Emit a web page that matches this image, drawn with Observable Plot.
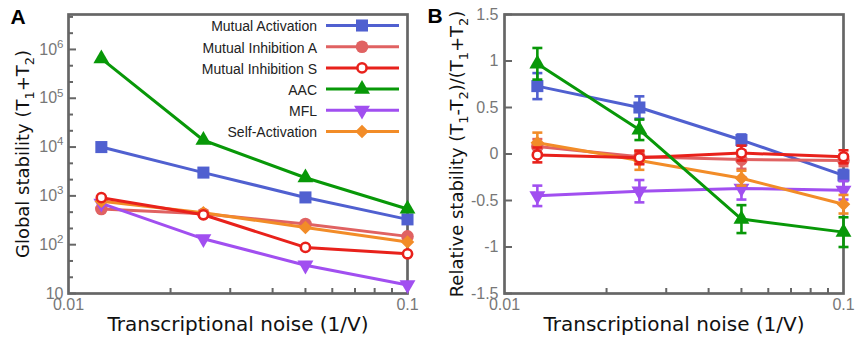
<!DOCTYPE html>
<html><head><meta charset="utf-8">
<script src="https://cdn.jsdelivr.net/npm/d3@7"></script>
<script src="https://cdn.jsdelivr.net/npm/@observablehq/plot@0.6"></script>
<style>
body{margin:0;background:#fff;}
#wrap{position:relative;width:855px;height:343px;overflow:hidden;}
#wrap > svg{position:absolute;top:0;}
</style></head><body><div id="wrap"></div>
<script>
// ---------- data ----------
const noise = [0.0125, 0.025, 0.05, 0.1];
const seriesNames = ["Mutual Activation","Mutual Inhibition A","Mutual Inhibition S","AAC","MFL","Self-Activation"];

const globalMA  = [10000, 3000, 930, 330];
const globalMIA = [540, 430, 265, 148];
const globalMIS = [920, 410, 88, 65];
const globalAAC = [650000, 13800, 2350, 540];
const globalMFL = [700, 132, 38, 15];
const globalSA  = [780, 450, 225, 113];

const relMA  = [0.73, 0.50, 0.15, -0.23];
const relMIA = [0.08, -0.03, -0.06, -0.07];
const relMIS = [-0.01, -0.04, 0.01, -0.03];
const relAAC = [0.97, 0.26, -0.70, -0.84];
const relMFL = [-0.45, -0.40, -0.37, -0.39];
const relSA  = [0.12, -0.07, -0.26, -0.54];

const errMA  = [0.14, 0.12, 0.06, 0.06];
const errMIA = [0.08, 0.07, 0.10, 0.06];
const errMIS = [0.08, 0.07, 0.08, 0.07];
const errAAC = [0.17, 0.11, 0.15, 0.16];
const errMFL = [0.11, 0.12, 0.12, 0.10];
const errSA  = [0.11, 0.10, 0.08, 0.10];

const xTickLabels = [0.01, 0.1];
const xMinorTicks = [0.02, 0.03, 0.04, 0.05, 0.06, 0.07, 0.08, 0.09];
const yTicksA = [10, 100, 1000, 10000, 100000, 1000000];
const yMinorA = [21.5, 46.4, 215, 464, 2154, 4642, 21544, 46416, 215443, 464159, 2154435, 4641589];
const yTicksB = [-1.5, -1, -0.5, 0, 0.5, 1, 1.5];

// ---------- styles ----------
const seriesColors = ["#5060d0", "#e06262", "#e8211b", "#089808", "#a14ff0", "#f28c28"];
const triDown = {draw(ctx, size){ const y = -Math.sqrt(size/(3*Math.sqrt(3))); ctx.moveTo(0, -2*y); ctx.lineTo(-Math.sqrt(3)*y, y); ctx.lineTo(Math.sqrt(3)*y, y); ctx.closePath(); }};
const diamondSq = {draw(ctx, size){ const h = Math.sqrt(size/2); ctx.moveTo(0,-h); ctx.lineTo(h,0); ctx.lineTo(0,h); ctx.lineTo(-h,0); ctx.closePath(); }};
const capSym = {draw(ctx, size){ const w = Math.sqrt(size/Math.PI); ctx.moveTo(-w,0); ctx.lineTo(w,0); }};
const markerStyles = [
  {symbol: "square", r: 6.8},
  {symbol: "circle", r: 6.3},
  {symbol: "circle", r: 4.6, open: true},
  {symbol: "triangle", r: 5.9},
  {symbol: triDown, r: 5.9},
  {symbol: diamondSq, r: 5.4}
];
const d3Sym = {square: d3.symbolSquare, circle: d3.symbolCircle, triangle: d3.symbolTriangle};
const drawOrder = [0, 1, 4, 5, 2, 3];

const globalVals = [globalMA, globalMIA, globalMIS, globalAAC, globalMFL, globalSA];
const relVals = [relMA, relMIA, relMIS, relAAC, relMFL, relSA];
const errVals = [errMA, errMIA, errMIS, errAAC, errMFL, errSA];
const rows = seriesNames.flatMap((name, i) => noise.map((x, j) => ({
  s: i, name, x, g: globalVals[i][j], rel: relVals[i][j], err: errVals[i][j]
})));

const frameColor = "#666";
const tickColor = "#777";
const baseFont = "'Liberation Sans', Arial, sans-serif";
const labelFont = "'DejaVu Sans', sans-serif";
const H = 343, MT = 14, MB = 50;
const innerH = H - MT - MB;

function seriesMarks(i, yKey, withErr) {
  const d = rows.filter(r => r.s === i);
  const c = seriesColors[i];
  const ms = markerStyles[i];
  const m = [Plot.line(d, {x: "x", y: yKey, stroke: c, strokeWidth: 3})];
  if (withErr) {
    m.push(Plot.ruleX(d, {x: "x", y1: r => r.rel - r.err, y2: r => r.rel + r.err, stroke: c, strokeWidth: 2.6}));
    m.push(Plot.dot(d, {x: "x", y: r => r.rel + r.err, symbol: capSym, r: 5, stroke: c, strokeWidth: 2.6, fill: "none"}));
    m.push(Plot.dot(d, {x: "x", y: r => r.rel - r.err, symbol: capSym, r: 5, stroke: c, strokeWidth: 2.6, fill: "none"}));
  }
  m.push(Plot.dot(d, {x: "x", y: yKey, symbol: ms.symbol, r: ms.r,
    fill: ms.open ? "white" : c, stroke: ms.open ? c : "none", strokeWidth: ms.open ? 2.6 : 0}));
  return m;
}

function fmtLog(d) { const e = Math.round(Math.log10(d)); return e === 1 ? "10" : "10^" + e; }

// ---------- Panel A ----------
const WA = 430, MLA = 68, MRA = 23, innerWA = WA - MLA - MRA;
const plotA = Plot.plot({
  width: WA, height: H, marginLeft: MLA, marginRight: MRA, marginTop: MT, marginBottom: MB,
  style: {fontFamily: baseFont, fontSize: "16px", background: "transparent", overflow: "visible"},
  x: {type: "log", domain: [0.01, 0.1]},
  y: {type: "log", domain: [10, 5.2e6]},
  marks: [
    Plot.frame({stroke: frameColor, strokeWidth: 2.7}),
    Plot.ruleX(xMinorTicks, {x: d => d, insetTop: innerH - 5, stroke: frameColor, strokeWidth: 2}),
    Plot.ruleY(yMinorA, {y: d => d, insetRight: innerWA - 5, stroke: frameColor, strokeWidth: 2}),
    Plot.ruleY(yTicksA, {y: d => d, insetRight: innerWA - 8, stroke: frameColor, strokeWidth: 2}),
    Plot.axisX({ticks: xTickLabels, tickSize: 0, tickPadding: 5, tickFormat: d => String(d), fill: tickColor, label: null}),
    Plot.axisY({ticks: yTicksA, tickSize: 0, tickPadding: 5, tickFormat: fmtLog, fill: tickColor, label: null}),
    ...drawOrder.flatMap(i => seriesMarks(i, "g", false)),
    Plot.text(["Transcriptional noise (1/V)"], {frameAnchor: "bottom", dy: 37, textAnchor: "middle", fontSize: 20, fontFamily: labelFont, fill: "#111"}),
    Plot.text(["Global stability (T_1+T_2)"], {frameAnchor: "left", dx: -45, rotate: -90, textAnchor: "middle", lineAnchor: "middle", fontSize: 18, fontFamily: labelFont, fill: "#111"}),
    Plot.text(["A"], {frameAnchor: "top-left", dx: -58, dy: 3, textAnchor: "start", lineAnchor: "middle", fontSize: 21, fontWeight: "bold", fill: "#000"})
  ]
});

// ---------- Panel B ----------
const WB = 425, MLB = 74, MRB = 12, innerWB = WB - MLB - MRB;
const plotB = Plot.plot({
  width: WB, height: H, marginLeft: MLB, marginRight: MRB, marginTop: MT, marginBottom: MB,
  style: {fontFamily: baseFont, fontSize: "16px", background: "transparent", overflow: "visible"},
  x: {type: "log", domain: [0.01, 0.1]},
  y: {domain: [-1.5, 1.5]},
  marks: [
    Plot.frame({stroke: frameColor, strokeWidth: 2.7}),
    Plot.ruleX(xMinorTicks, {x: d => d, insetTop: innerH - 5, stroke: frameColor, strokeWidth: 2}),
    Plot.ruleY(yTicksB, {y: d => d, insetRight: innerWB - 8, stroke: frameColor, strokeWidth: 2}),
    Plot.axisX({ticks: xTickLabels, tickSize: 0, tickPadding: 5, tickFormat: d => String(d), fill: tickColor, label: null}),
    Plot.axisY({ticks: yTicksB, tickSize: 0, tickPadding: 6, tickFormat: d => String(d), fill: tickColor, label: null}),
    ...drawOrder.flatMap(i => seriesMarks(i, "rel", true)),
    Plot.text(["Transcriptional noise (1/V)"], {frameAnchor: "bottom", dy: 37, textAnchor: "middle", fontSize: 20, fontFamily: labelFont, fill: "#111"}),
    Plot.text(["Relative stability (T_1-T_2)/(T_1+T_2)"], {frameAnchor: "left", dx: -47, rotate: -90, textAnchor: "middle", lineAnchor: "middle", fontSize: 18, fontFamily: labelFont, fill: "#111"}),
    Plot.text(["B"], {frameAnchor: "top-left", dx: -77, dy: 2, textAnchor: "start", lineAnchor: "middle", fontSize: 21, fontWeight: "bold", fill: "#000"})
  ]
});

const wrap = document.getElementById("wrap");
plotA.style.left = "0px";
plotB.style.left = "430px";
wrap.appendChild(plotA);
wrap.appendChild(plotB);

// ---------- rich text (sub/superscripts) ----------
const ns = "http://www.w3.org/2000/svg";
function richify(el) {
  const s = el.textContent;
  if (!/[_^]/.test(s)) return;
  const parts = []; let buf = ""; let i = 0;
  while (i < s.length) {
    const c = s[i];
    if ((c === "_" || c === "^") && i + 1 < s.length) {
      if (buf) { parts.push({t: buf, k: 0}); buf = ""; }
      let j = i + 1, run = "";
      while (j < s.length && /[0-9]/.test(s[j])) { run += s[j]; j++; }
      if (!run) { run = s[j]; j++; }
      parts.push({t: run, k: c === "_" ? 1 : -1});
      i = j;
    } else { buf += c; i++; }
  }
  if (buf) parts.push({t: buf, k: 0});
  const fs = parseFloat(getComputedStyle(el).fontSize) || 16;
  while (el.firstChild) el.removeChild(el.firstChild);
  let shift = 0;
  for (const p of parts) {
    const ts = document.createElementNS(ns, "tspan");
    const target = p.k === 1 ? 0.28 * fs : p.k === -1 ? -0.42 * fs : 0;
    if (target !== shift) ts.setAttribute("dy", target - shift);
    shift = target;
    if (p.k !== 0) ts.setAttribute("font-size", (0.72 * fs) + "px");
    ts.textContent = p.t;
    el.appendChild(ts);
  }
}
wrap.querySelectorAll("text").forEach(richify);

// ---------- legend (inside panel A) ----------
const leg = d3.select(wrap).append("svg")
  .attr("width", 430).attr("height", 343)
  .style("left", "0px").style("pointer-events", "none");
const legTextX = 317, legX1 = 326, legX2 = 399, legMX = 362, legY0 = 25.5, legDY = 21.2;
seriesNames.forEach((name, i) => {
  const y = legY0 + i * legDY;
  const c = seriesColors[i];
  const ms = markerStyles[i];
  const g = leg.append("g");
  g.append("text").attr("x", legTextX).attr("y", y).attr("dy", "0.42em")
    .attr("text-anchor", "end").attr("font-family", baseFont).attr("font-size", 14).attr("fill", "#222")
    .text(name);
  g.append("line").attr("x1", legX1).attr("x2", legX2).attr("y1", y).attr("y2", y)
    .attr("stroke", c).attr("stroke-width", 3);
  const type = typeof ms.symbol === "string" ? d3Sym[ms.symbol] : ms.symbol;
  g.append("path").attr("transform", `translate(${legMX},${y})`)
    .attr("d", d3.symbol().type(type).size(Math.PI * ms.r * ms.r)())
    .attr("fill", ms.open ? "white" : c)
    .attr("stroke", ms.open ? c : "none").attr("stroke-width", ms.open ? 2.6 : 0);
});
</script>
</body></html>
